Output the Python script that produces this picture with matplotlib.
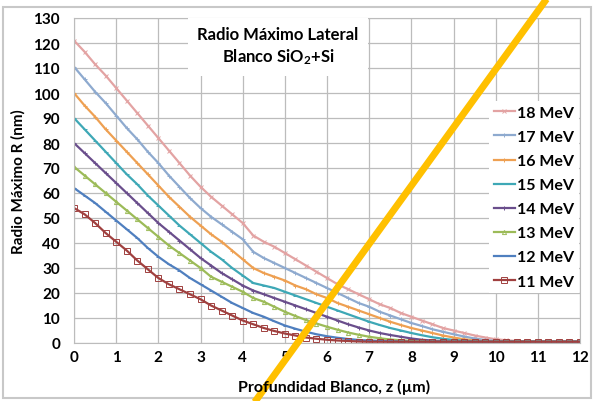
import numpy as np
import matplotlib.pyplot as plt
from matplotlib.lines import Line2D
from matplotlib.patches import Rectangle

plt.rcParams['font.family'] = ['Lato', 'DejaVu Sans']
plt.rcParams['font.weight'] = 'bold'
plt.rcParams['mathtext.fontset'] = 'custom'
plt.rcParams['mathtext.rm'] = 'Lato:bold'
plt.rcParams['mathtext.default'] = 'rm'

# depth in the target (um), one reading every 0.25 um
z = np.arange(0, 12.01, 0.25)

r18 = [121, 116.5, 111.5, 107, 102, 97, 92, 87, 82, 77, 72, 67, 62.5, 58.5, 55, 51.5, 48,
       43, 40.5, 38.5, 36, 33.5, 31, 28.5, 26, 23.5, 21.5, 19.5, 17.5, 15.5, 14, 12, 10.5,
       9, 7.5, 6, 5, 4, 3, 2.2, 1.5, 1.1, 0.8, 0.6, 0.5, 0.5, 0.5, 0.5, 0.5]
r17 = [110.5, 105.5, 100.5, 96, 91, 86, 81.5, 76.5, 72, 67, 62.5, 58, 54, 50.5, 47.5, 44.5, 41.5,
       36.5, 34, 32, 30, 28, 26, 24, 22, 20, 18, 16, 14.5, 12.5, 11, 9.5, 8,
       6.8, 5.5, 4.5, 3.5, 2.6, 1.8, 1.2, 0.8, 0.6, 0.5, 0.5, 0.5, 0.5, 0.5, 0.5, 0.5]
r16 = [100, 95, 90.5, 85.5, 81, 76.5, 72, 67.5, 63, 58.5, 54.5, 50.5, 47, 43.5, 40.5, 37, 33.5,
       30, 28, 26.5, 25, 23, 21.5, 19.5, 18, 16, 14.5, 13, 11.5, 10, 8.5, 7.2, 6,
       5, 4, 3, 2.2, 1.5, 1, 0.7, 0.5, 0.5, 0.5, 0.5, 0.5, 0.5, 0.5, 0.5, 0.5]
r15 = [90, 85.5, 81, 76.5, 72, 67.5, 63.5, 59, 55, 51, 47, 43.5, 40, 36.5, 33.5, 30, 27,
       24, 23, 22, 20.5, 19, 17.5, 16, 14.5, 13, 11.5, 10, 8.5, 7.2, 6, 5, 4,
       3.1, 2.3, 1.7, 1.2, 0.9, 0.7, 0.6, 0.5, 0.5, 0.5, 0.5, 0.5, 0.5, 0.5, 0.5, 0.5]
r14 = [80, 76, 72, 68, 64, 60, 56, 52, 48, 44.5, 41, 37.5, 34, 31, 28, 25.5, 23,
       21, 19.5, 18, 16.5, 15, 13.5, 12, 10.5, 9, 7.5, 6.2, 5, 4, 3.2, 2.5, 1.8,
       1.3, 1, 0.7, 0.5, 0.5, 0.5, 0.5, 0.5, 0.5, 0.5, 0.5, 0.5, 0.5, 0.5, 0.5, 0.5]
r13 = [70.5, 67, 63.5, 60, 56.5, 53, 49.5, 46, 42.5, 39, 36, 33, 30, 26.5, 24.5, 22.5, 20.5,
       18, 16.5, 14.5, 12.5, 10.8, 9.2, 7.8, 6.5, 5.3, 4.2, 3.3, 2.5, 1.9, 1.4, 1.1, 0.8,
       0.6, 0.5, 0.5, 0.5, 0.5, 0.5, 0.5, 0.5, 0.5, 0.5, 0.5, 0.5, 0.5, 0.5, 0.5, 0.5]
r12 = [62, 59, 56, 52.5, 49, 45.5, 42, 38, 34.5, 31.5, 29, 26, 23.5, 21, 18.5, 16, 14,
       12, 10.5, 8.7, 7, 5.7, 4.5, 3.5, 2.7, 2.1, 1.6, 1.2, 1, 0.8, 0.7, 0.6, 0.5,
       0.5, 0.5, 0.5, 0.5, 0.5, 0.5, 0.5, 0.5, 0.5, 0.5, 0.5, 0.5, 0.5, 0.5, 0.5, 0.5]
r11 = [54, 51.5, 48, 44, 40.5, 37, 33, 29.5, 26, 23.5, 21.5, 19.5, 17.5, 15, 13, 11, 9,
       7.5, 6, 4.8, 3.8, 3, 2.2, 1.7, 1.3, 1, 0.8, 0.6, 0.5, 0.5, 0.5, 0.5, 0.5,
       0.5, 0.5, 0.5, 0.5, 0.5, 0.5, 0.5, 0.5, 0.5, 0.5, 0.5, 0.5, 0.5, 0.5, 0.5, 0.5]

labels = ['18 MeV', '17 MeV', '16 MeV', '15 MeV', '14 MeV', '13 MeV', '12 MeV', '11 MeV']
series = [r18, r17, r16, r15, r14, r13, r12, r11]
colors = ['#e3a3a3', '#8eaacf', '#eea052', '#3ea8b6', '#6a4e8c', '#9cbb58', '#4f7fbf', '#a0403f']
markers = ['x', '+', '+', '_', '+', '^', '_', 's']
msizes = [3, 3.5, 3.5, 3, 3.5, 3, 3, 4]

fig = plt.figure(figsize=(5.94, 4.02), dpi=100)
ax = fig.add_axes([74/594, 58/402, 506/594, 325/402])

for r, lab, c, m, s in zip(series, labels, colors, markers, msizes):
    filled = m not in ('s', '^')
    ax.plot(z, r, color=c, lw=1.6, marker=m, ms=s, mew=0.7,
            mfc=c if filled else 'none', mec=c, label=lab)

ax.set_xlim(0, 12)
ax.set_ylim(0, 130)
ax.set_xticks(range(13))
ax.set_yticks(range(0, 131, 10))
ax.grid(True, color='#bcbcbc', lw=0.9)
ax.set_axisbelow(True)
for s in ax.spines.values():
    s.set_color('#bcbcbc')
ax.tick_params(length=0, labelsize=11)
ax.tick_params(axis='x', pad=5)
ax.tick_params(axis='y', pad=10)

fig.text(334/594, 1 - 387/402, 'Profundidad Blanco, z (\u00b5m)', ha='center', va='center', fontsize=11.5)
fig.text(18/594, 1 - 182/402, 'Radio Máximo R (nm)', ha='center', va='center', rotation=90, fontsize=11)

# chart title in a white box over the grid
fig.text(278/594, 1 - 47/402, 'Radio Máximo Lateral\nBlanco SiO$_2$+Si', ha='center', va='center',
         fontsize=12, linespacing=1.35,
         bbox=dict(facecolor='white', edgecolor='none', pad=7))

leg = ax.legend(loc='upper left', bbox_to_anchor=(481/594, 1 - 94/402), bbox_transform=fig.transFigure,
                fontsize=11.5, frameon=True, fancybox=False, edgecolor='none', framealpha=1,
                labelspacing=0.62, handlelength=1.3, handletextpad=0.15, borderpad=0.3)

# outer chart border
fig.patches.append(Rectangle((3/594, 3/402), 588/594, 391/402, transform=fig.transFigure,
                             fill=False, edgecolor='#c8c8c8', lw=1.5))

# yellow stroke across the picture
fig.lines.append(Line2D([548/594, 254/594], [1.005, -0.005], transform=fig.transFigure,
                        color='#ffc000', lw=5, solid_capstyle='butt'))

fig.savefig('out.png', dpi=100)
